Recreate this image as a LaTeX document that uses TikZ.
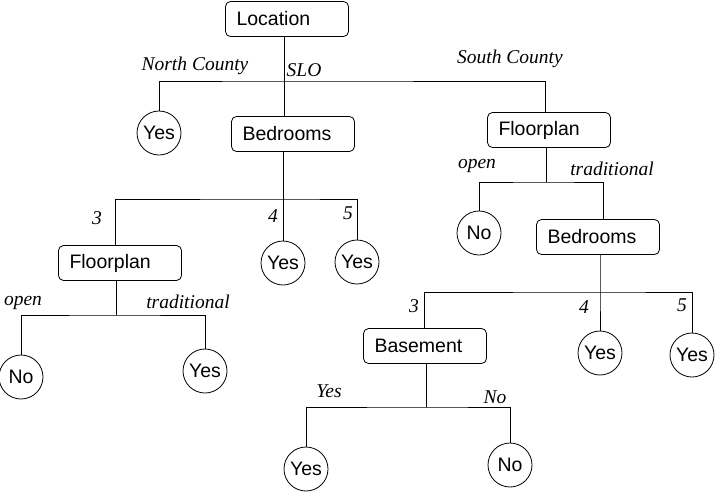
\documentclass[tikz,border=0pt]{standalone}
\usepackage{fontspec}
\setmainfont{Liberation Serif}
\newfontfamily\boxfont{Liberation Sans}
\begin{document}
\begin{tikzpicture}[x=1pt,y=-1pt,line width=0.8pt,
  attr/.style={draw,rounded corners=5pt,text width=101pt,align=left,inner xsep=11pt,
    minimum height=35pt,inner ysep=0pt,font=\boxfont\fontsize{19.5}{21}\selectfont},
  leaf/.style={draw,circle,minimum size=44pt,inner sep=0pt,font=\boxfont\fontsize{19.5}{21}\selectfont},
  lab/.style={inner sep=0pt,font=\itshape\fontsize{19.5}{21}\selectfont}]
\useasboundingbox (0,0) rectangle (715,493);
% nodes
\node[attr] (loc) at (287,19) {Location};
\node[leaf] (yes1) at (159,133) {Yes};
\node[attr] (bed1) at (293,134) {Bedrooms};
\node[attr] (fpR) at (549,130) {Floorplan};
\node[attr] (fpL) at (120,263) {Floorplan};
\node[leaf] (yes4a) at (283,263) {Yes};
\node[leaf] (yes5a) at (357,262) {Yes};
\node[leaf] (noL) at (21,377) {No};
\node[leaf] (yesL) at (205,371) {Yes};
\node[leaf] (noR) at (479,233) {No};
\node[attr] (bed2) at (598,237) {Bedrooms};
\node[attr] (bas) at (425,346) {Basement};
\node[leaf] (yes4b) at (600,353) {Yes};
\node[leaf] (yes5b) at (692,355) {Yes};
\node[leaf] (yesB) at (306,469) {Yes};
\node[leaf] (noB) at (510,465) {No};
% junctions
\coordinate (j1) at (284,81);
\coordinate (j2) at (283,199);
\coordinate (j3) at (116,315);
\coordinate (j4) at (546,182);
\coordinate (j5) at (600,292);
\coordinate (j6) at (426,407);
% connectors
\draw ([xshift=-3pt]loc.south) -- ([xshift=-9pt]bed1.north);
\draw (yes1.north) |- (j1) -| ([xshift=-4pt]fpR.north);
\draw ([xshift=-10pt]bed1.south) -- (j2);
\draw ([xshift=-5pt]fpL.north) |- (j2) -| (yes5a.north);
\draw (yes4a.north) -- (yes4a.north |- j2);
\draw ([xshift=-4pt]fpL.south) -- (j3);
\draw (noL.north) |- (j3) -| (yesL.north);
\draw ([xshift=-3pt]fpR.south) -- (j4);
\draw (noR.north) |- (j4) -| ([xshift=5pt]bed2.north);
\draw ([xshift=2pt]bed2.south) -- (j5) -- (yes4b.north);
\draw ([xshift=-1pt]bas.north) |- (j5) -| (yes5b.north);
\draw ([xshift=1pt]bas.south) -- (j6);
\draw (yesB.north) |- (j6) -| (noB.north);
% labels
\node[lab] (l1) at (195,66) {North County};
\node[lab] (l2) at (304,70) {SLO};
\node[lab] (l3) at (510,59) {South County};
\node[lab] (l4) at (97,218) {3};
\node[lab] (l5) at (273,216) {4};
\node[lab] (l6) at (348,213) {5};
\node[lab] (l7) at (23,303) {open};
\node[lab] (l8) at (188,302) {traditional};
\node[lab] (l9) at (477,166) {open};
\node[lab] (l10) at (612,169) {traditional};
\node[lab] (l11) at (414,306) {3};
\node[lab] (l12) at (584,307) {4};
\node[lab] (l13) at (682,305) {5};
\node[lab] (l14) at (329,391) {Yes};
\node[lab] (l15) at (495,397) {No};
\end{tikzpicture}
\end{document}
